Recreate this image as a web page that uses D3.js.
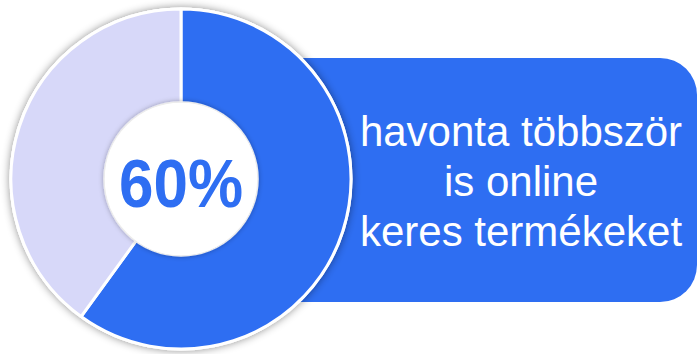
<!doctype html>
<html lang="hu">
<head>
<meta charset="utf-8">
<title>60% donut</title>
<script src="https://d3js.org/d3.v7.min.js"></script>
<style>
  html, body { margin: 0; padding: 0; background: #fff; }
  svg { display: block; }
</style>
</head>
<body>
<div id="chart"></div>
<script>
// chart values
const categories = ["havonta többször", "többi"];
const values = [60, 40];
const colors = ["#2e6ef2", "#d7d8f9"];
const centerLabel = "60%";
const captionLines = ["havonta többször", "is online", "keres termékeket"];

const width = 697, height = 354;
const cx = 181, cy = 179;
const outerR = 170, innerR = 77;

const svg = d3.select("#chart").append("svg")
    .attr("width", width)
    .attr("height", height)
    .attr("viewBox", [0, 0, width, height]);

const defs = svg.append("defs");
defs.append("filter").attr("id", "shadow")
    .attr("x", "-20%").attr("y", "-20%").attr("width", "140%").attr("height", "140%")
  .append("feDropShadow")
    .attr("dx", 0).attr("dy", 0).attr("stdDeviation", 4)
    .attr("flood-color", "#000").attr("flood-opacity", 0.45);
defs.append("filter").attr("id", "soft")
    .attr("x", "-20%").attr("y", "-20%").attr("width", "140%").attr("height", "140%")
  .append("feDropShadow")
    .attr("dx", 0).attr("dy", 0).attr("stdDeviation", 2.5)
    .attr("flood-color", "#000").attr("flood-opacity", 0.3);

// caption box behind the donut
svg.append("rect")
    .attr("x", 230).attr("y", 58)
    .attr("width", 467).attr("height", 244)
    .attr("rx", 37)
    .attr("fill", colors[0]);

svg.append("g")
    .attr("fill", "#fff")
    .attr("font-family", "Liberation Sans, Arial, sans-serif")
    .attr("font-size", 42)
    .attr("text-anchor", "middle")
  .selectAll("text")
  .data(captionLines)
  .join("text")
    .attr("x", 521)
    .attr("y", (d, i) => 146 + i * 50)
    .text(d => d);

// donut
const pie = d3.pie().sort(null).value(d => d);
const arc = d3.arc().innerRadius(innerR - 2).outerRadius(outerR);

const g = svg.append("g").attr("transform", `translate(${cx},${cy})`);

g.append("circle")
    .attr("r", outerR + 1.5)
    .attr("fill", "#fff")
    .attr("filter", "url(#shadow)");

g.selectAll("path")
  .data(pie(values))
  .join("path")
    .attr("d", arc)
    .attr("fill", (d, i) => colors[i])
    .attr("stroke", "#fff")
    .attr("stroke-width", 3)
    .attr("stroke-linejoin", "round");

g.append("circle")
    .attr("r", innerR)
    .attr("fill", "#fff")
    .attr("stroke", "#ececec")
    .attr("stroke-width", 1.5)
    .attr("filter", "url(#soft)");

g.append("text")
    .attr("y", 28)
    .attr("text-anchor", "middle")
    .attr("font-family", "Liberation Sans, Arial, sans-serif")
    .attr("font-weight", "bold")
    .attr("font-size", 68)
    .attr("textLength", 124)
    .attr("lengthAdjust", "spacingAndGlyphs")
    .attr("fill", colors[0])
    .text(centerLabel);
</script>
</body>
</html>
